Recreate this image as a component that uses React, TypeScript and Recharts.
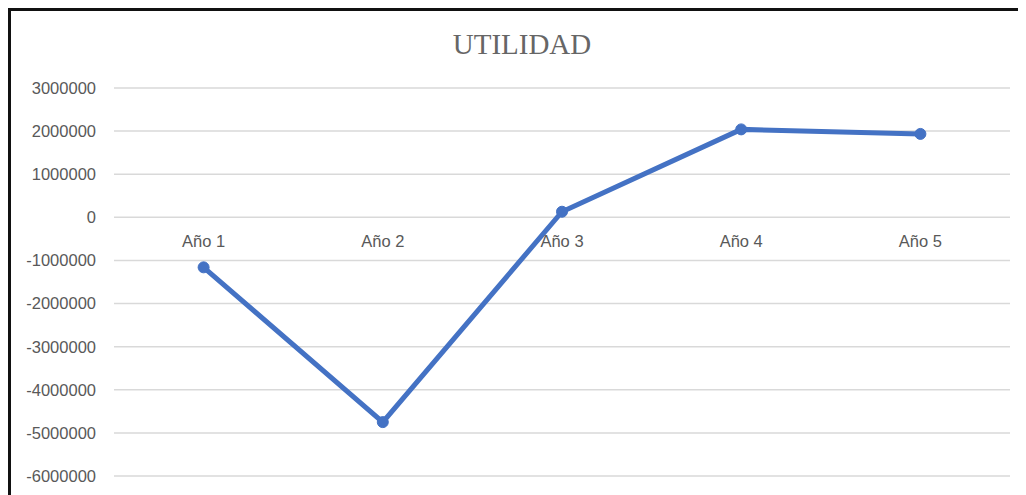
import { LineChart, Line, XAxis, YAxis, CartesianGrid, ReferenceDot } from 'recharts';

const years = ['Año 1', 'Año 2', 'Año 3', 'Año 4', 'Año 5'];
const utilidad = [-1160000, -4750000, 130000, 2040000, 1935000];
const yTicks = [3000000, 2000000, 1000000, 0, -1000000, -2000000, -3000000, -4000000, -5000000, -6000000];

const data = years.map((label, i) => ({ label, value: utilidad[i] }));

const BLUE = '#4472C4';
const TEXT = '#595959';
const FONT = '"Liberation Sans", Arial, sans-serif';

export default function App() {
  return (
    <div
      style={{
        position:    'relative',
        width:       1022,
        height:      484,
        borderTop:   '3px solid #111',
        borderLeft:  '3px solid #111',
        background:  '#fff',
      }}
    >
      <div
        style={{
          position:   'absolute',
          top:        19,
          left:       0,
          width:      1022,
          textAlign:  'center',
          fontFamily: '"Liberation Serif", "Times New Roman", serif',
          fontSize:   29,
          lineHeight: '29px',
          color:      '#666',
        }}
      >
        UTILIDAD
      </div>
      <LineChart width={1022} height={484} data={data} margin={{ top: 77, right: 23, left: 0, bottom: 19 }}>
        <CartesianGrid vertical={false} stroke="#d9d9d9" strokeWidth={1.5} />
        <XAxis dataKey="label" hide padding={{ left: 89.6, right: 89.6 }} />
        <YAxis
          type="number"
          domain={[-6000000, 3000000]}
          ticks={yTicks}
          interval={0}
          width={103}
          axisLine={false}
          tickLine={false}
          tickSize={6}
          tickMargin={12}
          tick={{ fontSize: 16.5, fill: TEXT, fontFamily: FONT }}
        />
        {years.map((y) => (
          <ReferenceDot
            key={y}
            x={y}
            y={0}
            r={0}
            fill="none"
            stroke="none"
            label={{ value: y, position: 'bottom', offset: 18, fill: TEXT, fontSize: 16.5, fontFamily: FONT }}
          />
        ))}
        <Line
          type="linear"
          dataKey="value"
          stroke={BLUE}
          strokeWidth={5}
          dot={{ r: 5.5, fill: BLUE, stroke: BLUE, strokeWidth: 1 }}
          activeDot={false}
          isAnimationActive={false}
        />
      </LineChart>
    </div>
  );
}
